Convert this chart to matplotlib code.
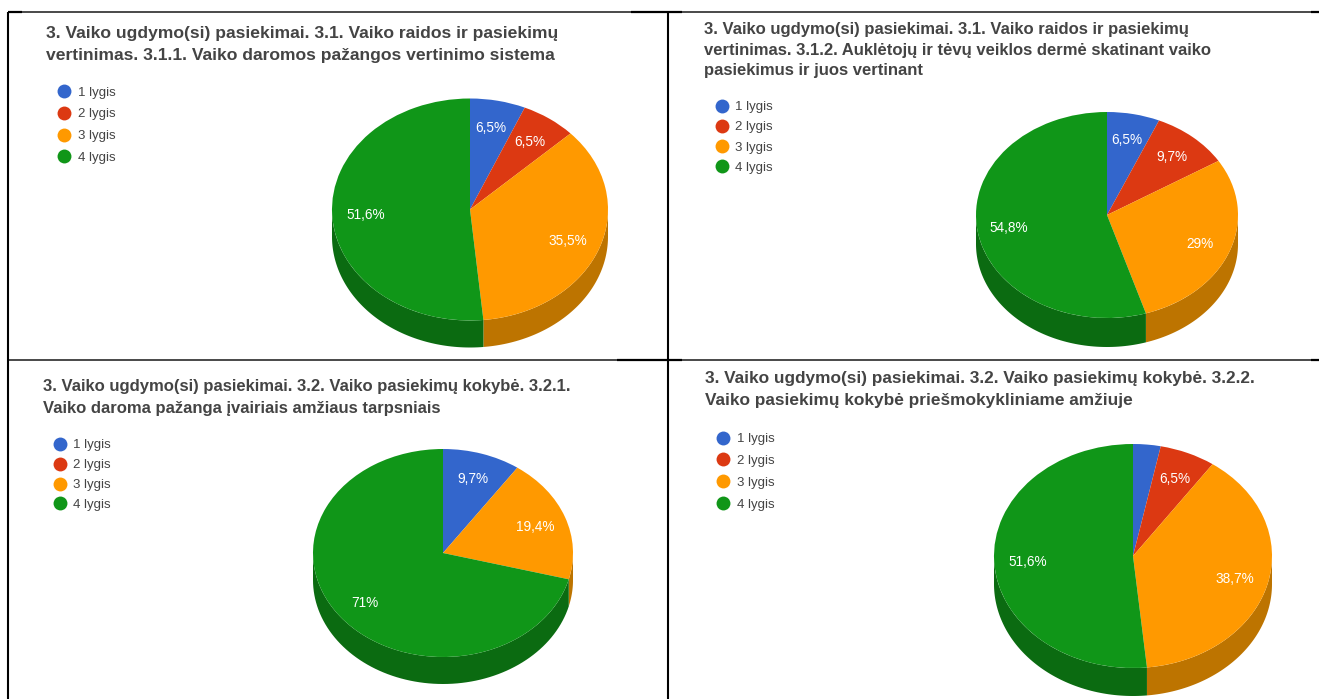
"""Four 3D-style pie charts: vaiko pasiekimu lygiai."""
import matplotlib

matplotlib.use("Agg")
import matplotlib.pyplot as plt
import numpy as np
from matplotlib.lines import Line2D

plt.rcParams["font.family"] = ["Liberation Sans", "DejaVu Sans"]

W, H = 1319, 699
COLORS = ["#3366cc", "#dc3912", "#ff9900", "#109618"]
DARK = ["#24478f", "#9a280d", "#bd7400", "#0b6b11"]
LEVELS = ["1 lygis", "2 lygis", "3 lygis", "4 lygis"]

values_311 = [6.5, 6.5, 35.5, 51.6]
values_312 = [6.5, 9.7, 29, 54.8]
values_321 = [9.7, 0, 19.4, 71]
values_322 = [3.2, 6.5, 38.7, 51.6]

labels_311 = ["6,5%", "6,5%", "35,5%", "51,6%"]
labels_312 = ["6,5%", "9,7%", "29%", "54,8%"]
labels_321 = ["9,7%", "", "19,4%", "71%"]
labels_322 = ["", "6,5%", "38,7%", "51,6%"]

title_311 = ("3. Vaiko ugdymo(si) pasiekimai. 3.1. Vaiko raidos ir pasiekimų\n"
             "vertinimas. 3.1.1. Vaiko daromos pažangos vertinimo sistema")
title_312 = ("3. Vaiko ugdymo(si) pasiekimai. 3.1. Vaiko raidos ir pasiekimų\n"
             "vertinimas. 3.1.2. Auklėtojų ir tėvų veiklos dermė skatinant vaiko\n"
             "pasiekimus ir juos vertinant")
title_321 = ("3. Vaiko ugdymo(si) pasiekimai. 3.2. Vaiko pasiekimų kokybė. 3.2.1.\n"
             "Vaiko daroma pažanga įvairiais amžiaus tarpsniais")
title_322 = ("3. Vaiko ugdymo(si) pasiekimai. 3.2. Vaiko pasiekimų kokybė. 3.2.2.\n"
             "Vaiko pasiekimų kokybė priešmokykliniame amžiuje")

# layout in image pixels
PANELS = [
    dict(values=values_311, labels=labels_311, title=title_311, title_xy=(46, 44.5), title_fs=12.6,
         title_ls=1.55, pie=(470, 209.5, 138, 111, 27), leg_xy=(57.5, 93.5), leg_step=22.7),
    dict(values=values_312, labels=labels_312, title=title_312, title_xy=(704, 50), title_fs=12.0,
         title_ls=1.48, pie=(1107, 215, 131, 103, 29), leg_xy=(715, 108), leg_step=21.2),
    dict(values=values_321, labels=labels_321, title=title_321, title_xy=(43, 397.5), title_fs=11.95,
         title_ls=1.58, pie=(443, 553, 130, 104, 27), leg_xy=(53, 446), leg_step=20.9),
    dict(values=values_322, labels=labels_322, title=title_322, title_xy=(705, 389.5), title_fs=12.4,
         title_ls=1.55, pie=(1133, 556, 139, 112, 28), leg_xy=(716.5, 440), leg_step=22.8),
]

# (x0, x1, y, lw) for the horizontal rules, (x, y0, y1, lw) for the vertical ones
H_RULES = [(8, W, 12, 1.0), (8, 22, 12, 1.6), (631, 682, 12, 1.6), (1311, W, 12, 1.6),
           (8, W, 360, 1.0), (617, 682, 360, 1.6), (1311, W, 360, 1.6)]
V_RULES = [(8, 12, H, 1.5), (668, 12, H, 1.5)]


def draw_pie(fig, values, labels, cx, cy, rx, ry, depth):
    m = 1.05
    d = depth / ry
    left, right = cx - m * rx, cx + m * rx
    top, bottom = cy - m * ry, cy + depth + m * ry
    ax = fig.add_axes([left / W, (H - bottom) / H, (right - left) / W, (bottom - top) / H])
    wedges, texts = ax.pie(values, colors=COLORS, labels=labels, startangle=90, counterclock=False,
                           labeldistance=0.76, wedgeprops={"linewidth": 0},
                           textprops={"color": "white", "fontsize": 9.8})
    ax.set_aspect("auto")
    ax.set_xlim(-m, m)
    ax.set_ylim(-m - d, m)
    for txt in texts:
        txt.set_ha("center")
        txt.set_va("center_baseline")
    # visible side wall: only the lower half of each slice
    for wedge, dark in zip(wedges, DARK):
        a0 = max(wedge.theta1 + 360, 180)
        a1 = min(wedge.theta2 + 360, 360)
        if a1 <= a0:
            continue
        t = np.radians(np.linspace(a0, a1, 80))
        xs = np.r_[np.cos(t), np.cos(t)[::-1]]
        ys = np.r_[np.sin(t), np.sin(t)[::-1] - d]
        ax.fill(xs, ys, color=dark, lw=0, zorder=0)
    return ax


def main():
    fig = plt.figure(figsize=(W / 100, H / 100), dpi=100, facecolor="white")
    bg = fig.add_axes([0, 0, 1, 1])
    bg.set_xlim(0, W)
    bg.set_ylim(H, 0)
    bg.axis("off")

    # table rules around the four screenshots
    for x0, x1, y, lw in H_RULES:
        bg.plot((x0, x1), (y, y), color="black", lw=lw, solid_capstyle="butt", snap=False)
    for x, y0, y1, lw in V_RULES:
        bg.plot((x, x), (y0, y1), color="black", lw=lw, solid_capstyle="butt", snap=False)

    for p in PANELS:
        bg.text(*p["title_xy"], p["title"], fontsize=p["title_fs"], fontweight="bold",
                color="#444444", ha="left", va="center", linespacing=p["title_ls"])
        draw_pie(fig, p["values"], p["labels"], *p["pie"])

        handles = [Line2D([], [], ls="", marker="o", ms=10, mew=0, color=c) for c in COLORS]
        fs = 9.5
        step_pt = p["leg_step"] * 0.72
        x, y = p["leg_xy"]
        fig.legend(handles=handles, labels=LEVELS, loc="upper left", frameon=False,
                   bbox_to_anchor=(x, y - 7), bbox_transform=bg.transData, borderpad=0,
                   borderaxespad=0, handlelength=1.0, handletextpad=0.55, fontsize=fs,
                   labelcolor="#444444", labelspacing=(step_pt - fs) / fs)

    fig.savefig("out.png", dpi=100, facecolor="white")
    plt.close(fig)


if __name__ == "__main__":
    main()
